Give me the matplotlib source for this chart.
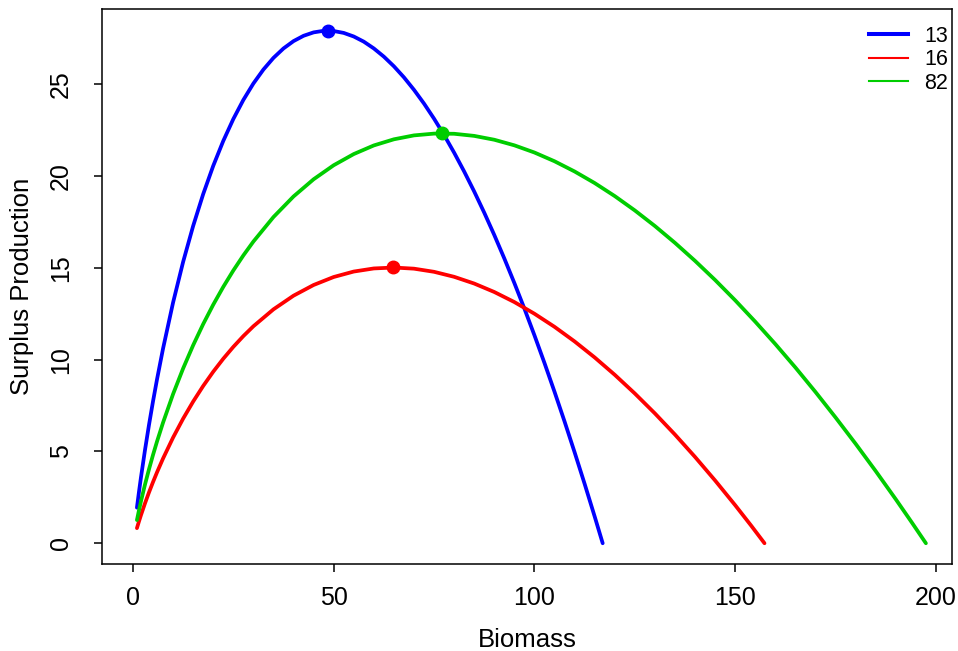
import matplotlib
matplotlib.use("Agg")
import matplotlib.pyplot as plt
from matplotlib.lines import Line2D

plt.rcParams['font.family'] = ['Liberation Sans', 'DejaVu Sans']

# ---- data ----
labels = ["13", "16", "82"]
colors = ["#0000FF", "#FF0000", "#00CD00"]

b13 = [1, 1.5, 2, 3, 4, 5, 6, 7.5, 10, 12.5, 15, 17.5, 20, 22.5, 25, 27.5, 30, 32.5, 35,
       37.5, 40, 42.5, 45, 47.5, 50, 52.5, 55, 57.5, 60, 62.5, 65, 67.5, 70, 72.5, 75,
       77.5, 80, 82.5, 85, 87.5, 90, 92.5, 95, 97.5, 100, 102.5, 105, 107.5, 110, 112.5,
       115, 117]
p13 = [1.939, 2.783, 3.581, 5.067, 6.440, 7.720, 8.921, 10.597, 13.106, 15.317, 17.275,
       19.011, 20.548, 21.905, 23.097, 24.137, 25.032, 25.793, 26.428, 26.942, 27.341,
       27.631, 27.817, 27.903, 27.891, 27.788, 27.593, 27.312, 26.943, 26.496, 25.971,
       25.369, 24.690, 23.940, 23.118, 22.228, 21.268, 20.243, 19.153, 18.000, 16.785,
       15.507, 14.170, 12.777, 11.325, 9.816, 8.250, 6.632, 4.958, 3.235, 1.459, 0.0]

b16 = [1, 1.5, 2, 3, 4, 5, 6, 7.5, 10, 12.5, 15, 17.5, 20, 22.5, 25, 27.5, 30, 35, 40,
       45, 50, 55, 60, 65, 70, 75, 80, 85, 90, 95, 100, 105, 110, 115, 120, 125, 130,
       135, 140, 145, 150, 154, 157.3]
p16 = [0.823, 1.184, 1.527, 2.170, 2.768, 3.330, 3.863, 4.613, 5.755, 6.783, 7.715,
       8.564, 9.339, 10.046, 10.691, 11.279, 11.814, 12.736, 13.480, 14.062, 14.497,
       14.794, 14.963, 15.013, 14.951, 14.780, 14.508, 14.141, 13.681, 13.133, 12.498,
       11.785, 10.990, 10.118, 9.173, 8.156, 7.071, 5.918, 4.700, 3.417, 2.072, 0.953,
       0.0]

b82 = [1, 1.5, 2, 3, 4, 5, 6, 7.5, 10, 12.5, 15, 17.5, 20, 22.5, 25, 27.5, 30, 35, 40,
       45, 50, 55, 60, 65, 70, 75, 80, 85, 90, 95, 100, 105, 110, 115, 120, 125, 130,
       135, 140, 145, 150, 155, 160, 165, 170, 175, 180, 185, 190, 194, 197.5]
p82 = [1.262, 1.787, 2.279, 3.189, 4.026, 4.806, 5.539, 6.567, 8.121, 9.516, 10.780,
       11.933, 12.989, 13.958, 14.850, 15.671, 16.426, 17.761, 18.883, 19.818, 20.582,
       21.191, 21.661, 21.995, 22.208, 22.305, 22.296, 22.181, 21.971, 21.667, 21.276,
       20.800, 20.244, 19.613, 18.904, 18.123, 17.274, 16.357, 15.377, 14.334, 13.228,
       12.063, 10.845, 9.570, 8.236, 6.849, 5.415, 3.929, 2.394, 1.129, 0.0]

msy_b = [48.65, 64.7, 77.0]
msy_p = [27.9, 15.02, 22.32]

xticks = [0, 50, 100, 150, 200]
yticks = [0, 5, 10, 15, 20, 25]

# ---- figure ----
fig = plt.figure(figsize=(9.58, 6.51), dpi=100)
ax = fig.add_axes([102 / 958, 1 - 564 / 651, (952 - 102) / 958, (564 - 9) / 651])

curves = [(b13, p13), (b16, p16), (b82, p82)]
for (bx, py), col in zip(curves, colors):
    ax.plot(bx, py, color=col, lw=2.7, solid_capstyle='round', solid_joinstyle='round')
for bx, py, col in zip(msy_b, msy_p, colors):
    ax.plot([bx], [py], 'o', color=col, markersize=9, zorder=5)

ax.set_xlim(-7.7, 204.0)
ax.set_ylim(-1.13, 29.09)
ax.set_xticks(xticks)
ax.set_yticks(yticks)
ax.set_xticklabels([str(v) for v in xticks])
ax.set_yticklabels([str(v) for v in yticks], rotation=90, va='center')
ax.tick_params(axis='both', direction='out', length=6, width=1.1, labelsize=18, colors='black')
ax.tick_params(axis='x', pad=10)
ax.tick_params(axis='y', pad=15)
for s in ax.spines.values():
    s.set_linewidth(1.1)
    s.set_color('black')

ax.set_xlabel("Biomass", fontsize=18.5, labelpad=13)
ax.set_ylabel("Surplus Production", fontsize=18.5, labelpad=11)

handles = [Line2D([0], [0], color=colors[0], lw=2.9),
           Line2D([0], [0], color=colors[1], lw=1.5),
           Line2D([0], [0], color=colors[2], lw=1.5)]
ax.legend(handles, labels, loc='upper right', bbox_to_anchor=(1.013, 0.997),
          frameon=False, fontsize=15.5, handlelength=1.8, handletextpad=0.75,
          labelspacing=0.12, borderaxespad=0.3)

fig.savefig("out.png", dpi=100)
